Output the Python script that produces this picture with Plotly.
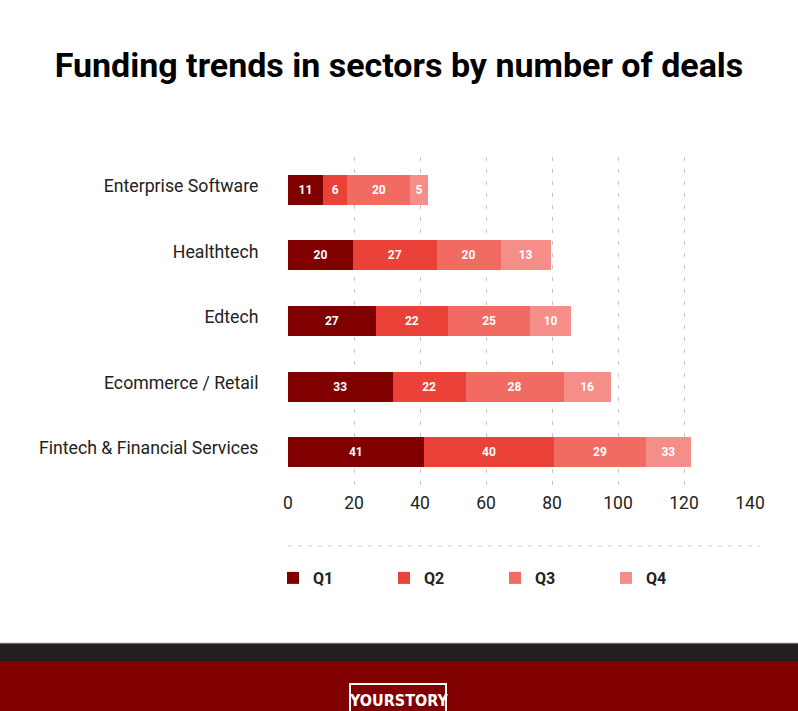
import plotly.graph_objects as go

categories = ["Enterprise Software", "Healthtech", "Edtech", "Ecommerce / Retail", "Fintech & Financial Services"]
quarters = ["Q1", "Q2", "Q3", "Q4"]

# bar lengths as drawn
q1_values = [10.6, 19.7, 26.6, 31.7, 41.1]
q2_values = [7.4, 25.3, 21.9, 22.1, 39.6]
q3_values = [19.1, 19.4, 24.9, 29.7, 27.7]
q4_values = [5.2, 15.2, 12.4, 14.3, 13.7]

# numbers printed inside the segments
q1_labels = ["11", "20", "27", "33", "41"]
q2_labels = ["6", "27", "22", "22", "40"]
q3_labels = ["20", "20", "25", "28", "29"]
q4_labels = ["5", "13", "10", "16", "33"]

x_ticks = [0, 20, 40, 60, 80, 100, 120, 140]

colors = ["#800000", "#ea4238", "#f26b63", "#f58d88"]

W, H = 798, 711
L, R, T, B = 288, 48, 157, 226
PW, PH = W - L - R, H - T - B


def px_x(x):
    return (x - L) / PW


def px_y(y):
    return (H - B - y) / PH


fig = go.Figure()
series = [(q1_values, q1_labels), (q2_values, q2_labels), (q3_values, q3_labels), (q4_values, q4_labels)]
for name, (vals, labs), col in zip(quarters, series, colors):
    fig.add_trace(go.Bar(
        y=categories, x=vals, name=name, orientation="h",
        marker=dict(color=col, line=dict(width=0)),
        text=labs, textposition="inside", insidetextanchor="middle",
        textangle=0,
        textfont=dict(family="Roboto", size=12, color="white", weight="bold"),
        hoverinfo="skip",
    ))

shapes = [
    # dashed separator above legend
    dict(type="line", xref="paper", yref="paper", x0=px_x(288), x1=px_x(760),
         y0=px_y(546), y1=px_y(546), line=dict(color="#cccccc", width=1, dash="4px,6px")),
    # footer bands
    dict(type="rect", xref="paper", yref="paper", x0=px_x(-2), x1=px_x(W + 2),
         y0=px_y(661), y1=px_y(643), fillcolor="#231f20", line=dict(width=0)),
    dict(type="line", xref="paper", yref="paper", x0=px_x(-2), x1=px_x(W + 2),
         y0=px_y(643), y1=px_y(643), line=dict(color="#bbbbbb", width=1)),
    dict(type="rect", xref="paper", yref="paper", x0=px_x(-2), x1=px_x(W + 2),
         y0=px_y(H + 5), y1=px_y(661), fillcolor="#800000", line=dict(width=0)),
    # logo frame
    dict(type="rect", xref="paper", yref="paper", x0=px_x(350), x1=px_x(446),
         y0=px_y(H + 6), y1=px_y(684), fillcolor="rgba(0,0,0,0)",
         line=dict(color="white", width=2)),
]

annotations = [
    dict(text="YOURSTORY", xref="paper", yref="paper", x=px_x(398), y=px_y(700),
         xanchor="center", yanchor="middle", showarrow=False,
         font=dict(family="Liberation Sans Narrow, DejaVu Sans Condensed, Roboto", size=16,
                   color="white", weight="bold")),
]

fig.update_layout(
    width=W, height=H,
    margin=dict(l=L, r=R, t=T, b=B, autoexpand=False),
    paper_bgcolor="white", plot_bgcolor="white",
    barmode="stack", bargap=0.54,
    uniformtext=dict(minsize=12, mode="show"),
    title=dict(text="<b>Funding trends in sectors by number of deals</b>",
               xref="container", x=0.5, xanchor="center",
               yref="container", y=1 - 65 / H, yanchor="middle",
               font=dict(family="Roboto", size=34, color="#000000")),
    font=dict(family="Roboto", color="#222222"),
    xaxis=dict(range=[0, 140], tickvals=x_ticks, showgrid=True, gridcolor="#c8c8c8",
               griddash="4px,8px", gridwidth=1, zeroline=False, showline=False,
               ticks="outside", ticklen=2, tickcolor="rgba(0,0,0,0)",
               tickfont=dict(family="Roboto", size=17.5, color="#222222")),
    yaxis=dict(autorange="reversed", showgrid=False, zeroline=False, showline=False,
               ticks="outside", ticklen=25, tickcolor="rgba(0,0,0,0)",
               ticklabelshift=4,
               tickfont=dict(family="Roboto", size=17.7, color="#222222")),
    showlegend=True,
    legend=dict(orientation="h", x=px_x(273), xanchor="left", y=px_y(578), yanchor="middle",
                entrywidth=66, entrywidthmode="pixels", traceorder="normal",
                font=dict(family="Roboto", size=16, color="#222222", weight="bold"),
                bgcolor="rgba(0,0,0,0)"),
    shapes=shapes,
    annotations=annotations,
)

fig.write_html("out.html", config={"displayModeBar": False},
               post_script="document.body.style.margin='0px';")
